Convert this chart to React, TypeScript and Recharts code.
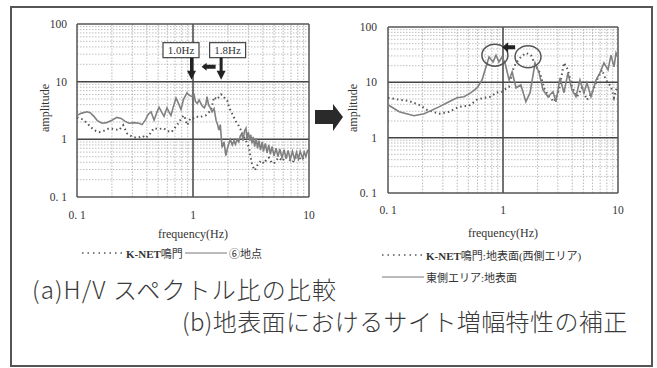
import React from "react";
import { LineChart, Line, XAxis, YAxis, ReferenceLine, ReferenceDot } from "recharts";

// (a) H/V spectral ratio: [frequency Hz, amplitude]
const hvKnet: [number, number][] = [
  [0.1, 2.4], [0.113, 2.2], [0.127, 1.76], [0.14, 1.45], [0.155, 1.33], [0.17, 1.4], [0.19, 1.56],
  [0.21, 1.5], [0.23, 1.44], [0.25, 1.76], [0.27, 1.27], [0.3, 1.1], [0.32, 1.08], [0.34, 1.08],
  [0.37, 1.15], [0.39, 1.05], [0.42, 1.2], [0.46, 1.56], [0.5, 1.5], [0.56, 1.56], [0.6, 1.4],
  [0.65, 1.33], [0.7, 1.6], [0.76, 1.98], [0.8, 2.4], [0.84, 2.6], [0.89, 1.76], [0.95, 2.3],
  [1.0, 2.3], [1.07, 2.5], [1.13, 2.4], [1.2, 2.5], [1.29, 2.6], [1.36, 2.9], [1.43, 3.2],
  [1.52, 5.4], [1.6, 4.9], [1.67, 5.4], [1.74, 6.0], [1.8, 5.9], [1.85, 5.4], [1.92, 4.8],
  [1.98, 4.6], [2.05, 3.6], [2.13, 3.0], [2.22, 2.6], [2.3, 2.15], [2.45, 1.8], [2.59, 1.44],
  [2.75, 1.1], [2.9, 0.9], [3.04, 0.72], [3.13, 0.5], [3.22, 0.38], [3.32, 0.32], [3.42, 0.29],
  [3.6, 0.36], [3.86, 0.43], [4.1, 0.38], [4.3, 0.45], [4.52, 0.48], [4.75, 0.4], [4.99, 0.38],
  [5.25, 0.44], [5.5, 0.48], [5.9, 0.42], [6.3, 0.5], [6.72, 0.45], [7.2, 0.4], [7.7, 0.48],
  [8.2, 0.48], [8.7, 0.44], [9.2, 0.52], [9.6, 0.55], [10, 0.72],
];

const hvSite6: [number, number][] = [
  [0.1, 2.6], [0.11, 2.85], [0.122, 3.0], [0.13, 2.9], [0.14, 2.5], [0.15, 2.1], [0.164, 1.9],
  [0.18, 1.95], [0.2, 2.15], [0.221, 2.4], [0.24, 2.3], [0.26, 2.05], [0.281, 1.9], [0.31, 1.95],
  [0.343, 1.9], [0.364, 1.8], [0.39, 2.2], [0.41, 2.7], [0.435, 3.0], [0.462, 2.15], [0.49, 3.0],
  [0.51, 3.6], [0.54, 2.9], [0.563, 2.5], [0.58, 3.0], [0.597, 3.5], [0.62, 3.0], [0.646, 2.6],
  [0.68, 3.8], [0.714, 5.2], [0.75, 4.2], [0.788, 3.3], [0.83, 5.0], [0.888, 6.4], [0.93, 5.8],
  [0.98, 5.5], [1.02, 6.0], [1.05, 4.5], [1.09, 4.2], [1.13, 4.8], [1.17, 4.2], [1.2, 3.8],
  [1.25, 3.5], [1.29, 4.0], [1.32, 5.5], [1.36, 4.0], [1.4, 3.6], [1.46, 3.0], [1.52, 3.4],
  [1.58, 2.15], [1.63, 1.8], [1.67, 1.44], [1.72, 1.8], [1.78, 0.72], [1.85, 0.9], [1.92, 0.52],
  [1.98, 0.7], [2.04, 0.85], [2.1, 1.0], [2.18, 0.8], [2.25, 0.95], [2.32, 0.82], [2.4, 1.0],
  [2.48, 0.9], [2.56, 1.15], [2.64, 1.27], [2.7, 0.95], [2.78, 1.4], [2.86, 1.56], [2.92, 1.0],
  [3.0, 1.35], [3.08, 0.95], [3.15, 1.2], [3.22, 0.85], [3.3, 1.1], [3.4, 0.75], [3.5, 1.05],
  [3.6, 0.7], [3.7, 0.95], [3.82, 0.65], [3.95, 0.9], [4.05, 0.62], [4.2, 0.85], [4.35, 0.58],
  [4.5, 0.8], [4.65, 0.55], [4.8, 0.75], [5.0, 0.52], [5.2, 0.7], [5.4, 0.5], [5.6, 0.68],
  [5.85, 0.48], [6.1, 0.66], [6.35, 0.46], [6.6, 0.64], [6.9, 0.45], [7.2, 0.62], [7.5, 0.45],
  [7.8, 0.6], [8.1, 0.46], [8.4, 0.62], [8.8, 0.47], [9.1, 0.6], [9.4, 0.5], [9.7, 0.63], [10, 0.58],
];

// (b) site amplification at the ground surface
const ampWest: [number, number][] = [
  [0.1, 5.26], [0.125, 4.84], [0.152, 4.6], [0.186, 3.93], [0.218, 3.2], [0.278, 2.7], [0.339, 2.94],
  [0.414, 3.6], [0.506, 3.77], [0.594, 4.84], [0.684, 5.26], [0.787, 5.5], [0.869, 6.5], [0.98, 6.75],
  [1.02, 7.3], [1.13, 8.3], [1.22, 16.8], [1.3, 22.5], [1.43, 28.8], [1.58, 34], [1.75, 31],
  [1.94, 19], [2.1, 14.8], [2.27, 7.9], [2.51, 5.5], [2.78, 4.45], [3.07, 7.3], [3.39, 22.5],
  [3.67, 16.8], [3.98, 8.3], [4.4, 5.5], [4.86, 7.9], [5.37, 4.84], [5.94, 6.5], [6.56, 11],
  [7.26, 16.8], [7.87, 11], [8.69, 8.3], [9.23, 5.26], [9.8, 8.3],
];

const ampEast: [number, number][] = [
  [0.1, 3.93], [0.125, 2.94], [0.168, 2.49], [0.206, 2.7], [0.278, 3.6], [0.339, 4.45], [0.398, 5.26],
  [0.458, 5.5], [0.527, 6.5], [0.594, 7.9], [0.657, 11], [0.711, 19], [0.756, 28.8], [0.819, 23.4],
  [0.869, 31], [0.923, 23.4], [0.98, 28.8], [1.04, 22.5], [1.13, 11], [1.2, 15.4], [1.3, 7.9],
  [1.43, 9], [1.58, 4.45], [1.72, 6.5], [1.9, 22.5], [2.06, 14.8], [2.23, 7.3], [2.46, 5.5],
  [2.72, 6.75], [2.89, 4.45], [3.13, 12], [3.39, 6.5], [3.67, 14.8], [3.98, 7.3], [4.31, 5.5],
  [4.67, 11], [5.06, 6.5], [5.37, 9.8], [5.82, 5.5], [6.44, 11], [6.97, 14.8], [7.55, 22.5],
  [8.19, 16.8], [8.69, 31], [9.23, 19], [9.61, 34], [10, 28],
];

const xTicks = [0.1, 1, 10];
const yTicks = [0.1, 1, 10, 100];
const xMinor = [0.2, 0.3, 0.4, 0.5, 0.6, 0.7, 0.8, 0.9, 2, 3, 4, 5, 6, 7, 8, 9];
const yMinor = [
  0.2, 0.3, 0.4, 0.5, 0.6, 0.7, 0.8, 0.9, 2, 3, 4, 5, 6, 7, 8, 9, 20, 30, 40, 50, 60, 70, 80, 90,
];
const xMajor = [1];
const yMajor = [1, 10];

const peakMarks = ["1.0Hz", "1.8Hz"];
const peakFreqs = [1.0, 1.8];
const circledFreqs = [0.85, 1.65];
const circledAmps = [31, 29];

const SERIF = '"Liberation Serif", "Noto Sans CJK JP", serif';
const INK = "#333";
const FRAME = "#555";

const toRows = (pts: [number, number][]) => pts.map(([f, amp]) => ({ f, amp }));
const fmtTick = (v: number) => (v === 0.1 ? "0. 1" : String(v));

const xTitle = (dy: number) => (props: any) => {
  const { x, y, width } = props.viewBox;
  return (
    <text x={x + width / 2} y={y + dy} textAnchor="middle" fontSize={12} fill={INK} fontFamily={SERIF}>
      frequency(Hz)
    </text>
  );
};

const yTitle = (cx: number, cy: number) => () => (
  <text
    x={cx}
    y={cy}
    transform={`rotate(-90 ${cx} ${cy})`}
    textAnchor="middle"
    dominantBaseline="central"
    fontSize={12}
    fill={INK}
    fontFamily={SERIF}
  >
    amplitude
  </text>
);

// dotted minor grid, dark decade lines and the plot frame
function frameAndGrid() {
  return [
    ...xMinor.map((v) => (
      <ReferenceLine key={`xn${v}`} x={v} stroke="#a8a8a8" strokeWidth={0.8} strokeDasharray="1.5 1.5" />
    )),
    ...yMinor.map((v) => (
      <ReferenceLine key={`yn${v}`} y={v} stroke="#b0b0b0" strokeWidth={0.8} strokeDasharray="1.5 1.5" />
    )),
    ...xMajor.map((v) => <ReferenceLine key={`xm${v}`} x={v} stroke="#444" strokeWidth={1.5} />),
    ...yMajor.map((v) => <ReferenceLine key={`ym${v}`} y={v} stroke="#444" strokeWidth={1.5} />),
    <ReferenceLine key="fl" x={0.1} stroke={FRAME} strokeWidth={1.5} />,
    <ReferenceLine key="fr" x={10} stroke={FRAME} strokeWidth={1.5} />,
    <ReferenceLine key="fb" y={0.1} stroke={FRAME} strokeWidth={1.5} />,
    <ReferenceLine key="ft" y={100} stroke={FRAME} strokeWidth={1.5} />,
  ];
}

const boxShift = [-12, 5];

function HzCallout(i: number) {
  return (p: any) => {
    const { cx, cy } = p;
    const bx = cx + boxShift[i] - 18;
    return (
      <g>
        <rect x={bx} y={cy - 39} width={36} height={15} fill="#fff" stroke="#444" strokeWidth={1.2} />
        <text x={bx + 18} y={cy - 27.5} textAnchor="middle" fontSize={11} fill={INK} fontFamily={SERIF}>
          {peakMarks[i]}
        </text>
        <rect x={cx - 3} y={cy - 24} width={3} height={14} fill="#222" />
        <polygon points={`${cx - 6},${cy - 11} ${cx + 3},${cy - 11} ${cx - 1.5},${cy - 2}`} fill="#222" />
        {i === 1 && (
          <polygon
            points={`${cx - 21},${cy - 15} ${cx - 16},${cy - 19} ${cx - 16},${cy - 17} ${cx - 7},${cy - 17} ${cx - 7},${cy - 13} ${cx - 16},${cy - 13} ${cx - 16},${cy - 11}`}
            fill="#222"
          />
        )}
      </g>
    );
  };
}

const ellipseShape = (p: any) => (
  <ellipse cx={p.cx} cy={p.cy} rx={13} ry={11} fill="none" stroke="#555" strokeWidth={1.5} />
);

const shiftArrow = (p: any) => (
  <polygon
    points={`${p.cx - 7},${p.cy} ${p.cx - 1},${p.cy - 5} ${p.cx - 1},${p.cy - 2} ${p.cx + 6},${p.cy - 2} ${p.cx + 6},${p.cy + 2} ${p.cx - 1},${p.cy + 2} ${p.cx - 1},${p.cy + 5}`}
    fill="#222"
  />
);

function LegendRow({ dotted, label, top, left }: { dotted: boolean; label: React.ReactNode; top: number; left: number }) {
  return (
    <div style={{ position: "absolute", top: top - 8, left, height: 16, display: "flex", alignItems: "center", fontFamily: SERIF, fontSize: 11, color: INK, whiteSpace: "nowrap" }}>
      <svg width={42} height={6} style={{ marginRight: 2 }}>
        <line x1={0} y1={3} x2={42} y2={3} stroke={dotted ? "#555" : "#777"} strokeWidth={dotted ? 1.5 : 1} strokeDasharray={dotted ? "1.5 4" : undefined} />
      </svg>
      <span>{label}</span>
    </div>
  );
}

const captionStyle: React.CSSProperties = {
  position: "absolute",
  height: 32,
  lineHeight: "32px",
  fontSize: 24,
  fontFamily: '"Noto Sans CJK JP", sans-serif',
  fontWeight: 300,
  color: "#3a3a3a",
  whiteSpace: "nowrap",
};

export default function App() {
  const knetRows = toRows(hvKnet);
  const siteRows = toRows(hvSite6);
  const westRows = toRows(ampWest);
  const eastRows = toRows(ampEast);
  const tickStyle = { fontSize: 11.5, fill: INK, fontFamily: SERIF };

  return (
    <div style={{ position: "absolute", left: 0, top: 0, width: 657, height: 368, background: "#fff", overflow: "hidden" }}>
      <div style={{ position: "absolute", left: 10, top: 6, width: 643, height: 361, boxSizing: "border-box", border: "2px solid #555" }} />

      <div style={{ position: "absolute", left: 0, top: 0 }}>
        <LineChart width={330} height={250} margin={{ top: 24, right: 21, bottom: 0, left: 0 }}>
          <XAxis
            type="number"
            dataKey="f"
            scale="log"
            domain={[0.1, 10]}
            allowDataOverflow
            ticks={xTicks}
            tickFormatter={fmtTick}
            height={53}
            tickLine={false}
            axisLine={false}
            tickMargin={8}
            tick={tickStyle}
            label={{ content: xTitle(41) }}
          />
          <YAxis
            type="number"
            scale="log"
            domain={[0.1, 100]}
            allowDataOverflow
            ticks={yTicks}
            tickFormatter={fmtTick}
            width={77}
            tickLine={false}
            axisLine={false}
            tickMargin={4}
            tick={tickStyle}
            label={{ content: yTitle(45, 108) }}
          />
          {frameAndGrid()}
          <Line data={knetRows} dataKey="amp" type="linear" dot={false} stroke="#555" strokeWidth={2} strokeDasharray="1.5 3" isAnimationActive={false} />
          <Line data={siteRows} dataKey="amp" type="linear" dot={false} stroke="#808080" strokeWidth={1.6} isAnimationActive={false} />
          {peakFreqs.map((f, i) => (
            <ReferenceDot key={f} x={f} y={10} shape={HzCallout(i)} />
          ))}
        </LineChart>
      </div>

      <svg style={{ position: "absolute", left: 312, top: 100 }} width={36} height={36}>
        <polygon points="3,10 21,10 21,4 31,17 21,31 21,24 3,24" fill="#2a2a2a" />
      </svg>

      <div style={{ position: "absolute", left: 330, top: 0 }}>
        <LineChart width={327} height={250} margin={{ top: 27, right: 39, bottom: 0, left: 0 }}>
          <XAxis
            type="number"
            dataKey="f"
            scale="log"
            domain={[0.1, 10]}
            allowDataOverflow
            ticks={xTicks}
            tickFormatter={fmtTick}
            height={57}
            tickLine={false}
            axisLine={false}
            tickMargin={7}
            tick={tickStyle}
            label={{ content: xTitle(44) }}
          />
          <YAxis
            type="number"
            scale="log"
            domain={[0.1, 100]}
            allowDataOverflow
            ticks={yTicks}
            tickFormatter={fmtTick}
            width={58}
            tickLine={false}
            axisLine={false}
            tickMargin={5}
            tick={tickStyle}
            label={{ content: yTitle(23, 108) }}
          />
          {frameAndGrid()}
          <Line data={westRows} dataKey="amp" type="linear" dot={false} stroke="#555" strokeWidth={2} strokeDasharray="1.5 3" isAnimationActive={false} />
          <Line data={eastRows} dataKey="amp" type="linear" dot={false} stroke="#808080" strokeWidth={1.6} isAnimationActive={false} />
          {circledFreqs.map((f, i) => (
            <ReferenceDot key={f} x={f} y={circledAmps[i]} shape={ellipseShape} />
          ))}
          <ReferenceDot x={1.13} y={43} shape={shiftArrow} />
        </LineChart>
      </div>

      <LegendRow dotted top={253} left={82} label={<><b style={{ fontWeight: 600 }}>K-NET</b>鳴門</>} />
      <LegendRow dotted={false} top={253} left={185} label="⑥地点" />
      <LegendRow dotted top={255} left={382} label={<><b style={{ fontWeight: 600 }}>K-NET</b>鳴門:地表面(西側エリア)</>} />
      <LegendRow dotted={false} top={277} left={382} label="東側エリア:地表面" />

      <div style={{ ...captionStyle, left: 32, top: 273, letterSpacing: 1.1 }}>(a)H/V スペクトル比の比較</div>
      <div style={{ ...captionStyle, left: 182, top: 305, letterSpacing: 0.4 }}>(b)地表面におけるサイト増幅特性の補正</div>
    </div>
  );
}
